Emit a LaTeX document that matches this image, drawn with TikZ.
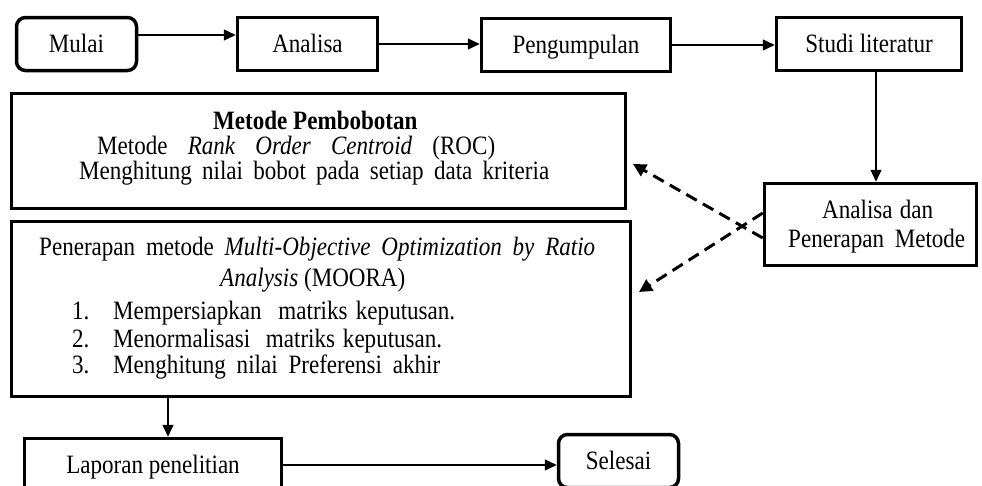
\documentclass[tikz,border=0pt]{standalone}
\usepackage{fontspec}
\setmainfont{Liberation Serif}[FakeStretch=0.87]
\usetikzlibrary{arrows.meta,calc}
\begin{document}
\begin{tikzpicture}[x=1pt,y=-1pt,
  every node/.style={font=\fontsize{26.5}{30}\selectfont},
  box/.style={draw, line width=3.5pt, minimum height=53pt, inner sep=0pt, align=center,
    text height=23pt, text depth=6.5pt},
  bigbox/.style={draw, line width=3.5pt, inner sep=0pt},
  rbox/.style={box, rounded corners=9pt},
  txt/.style={inner sep=0pt, align=left},
  conn/.style={line width=1.3pt, -{Triangle[length=12pt,width=11pt]}},
  dconn/.style={line width=3pt, dash pattern=on 12pt off 7pt, -{Triangle[length=13pt,width=13pt]}}]

\useasboundingbox (0,0) rectangle (982,485);
\clip (0,0) rectangle (982,485);

% boxes
\node[rbox, minimum width=120pt] (mulai) at (76.5,44) {Mulai};
\node[box, minimum width=140pt] (analisa) at (307.5,44) {Analisa};
\node[box, minimum width=189pt] (pengumpulan) at (576,45) {Pengumpulan};
\node[box, minimum width=185pt] (studi) at (869,44) {Studi literatur};
\node[bigbox, minimum width=614pt, minimum height=115pt] (roc) at (318.5,151) {};
\node[bigbox, minimum width=619pt, minimum height=175pt] (moora) at (321,309) {};
\node[bigbox, minimum width=212pt, minimum height=82pt] (anp) at (870.5,224.5) {};
\node[box, minimum width=257pt] (laporan) at (153,465) {Laporan penelitian};
\node[rbox, minimum width=120pt] (selesai) at (618.5,461) {Selesai};

% text of the ROC box (base anchor = baseline of the last line)
\node[txt, anchor=base west, font={\fontsize{26.5}{25}\selectfont\lineskiplimit=-100pt}] (roctext) at (60,179) {%
\makebox[500pt][l]{\hspace*{153pt}\textbf{Metode Pembobotan}}\\
\makebox[500pt][l]{\hspace*{37pt}\makebox[398pt][s]{Metode \textit{Rank Order Centroid} (ROC)}}\\
\makebox[500pt][l]{\hspace*{19pt}\makebox[470pt][s]{Menghitung nilai bobot pada setiap data kriteria}}};

% text of the MOORA box
\node[txt, anchor=base west, font={\fontsize{26.5}{26}\selectfont\lineskiplimit=-100pt}] (mooratext) at (39,373) {%
\makebox[560pt][l]{\makebox[556pt][s]{Penerapan metode \textit{Multi-Objective Optimization by Ratio}}}\\[5pt]
\makebox[560pt][l]{\hspace*{181pt}\textit{Analysis} (MOORA)}\\[7pt]
\makebox[560pt][l]{\hspace*{33pt}\makebox[41pt][l]{1.}\makebox[342pt][s]{Mempersiapkan\ \ matriks keputusan.}}\\[2pt]
\makebox[560pt][l]{\hspace*{33pt}\makebox[41pt][l]{2.}\makebox[329pt][s]{Menormalisasi\ \ matriks keputusan.}}\\
\makebox[560pt][l]{\hspace*{33pt}\makebox[41pt][l]{3.}\makebox[327pt][s]{Menghitung nilai Preferensi akhir}}};

% text of the analysis box
\node[txt, anchor=base west, font={\fontsize{26.5}{29}\selectfont\lineskiplimit=-100pt}] (anptext) at (788,247) {%
\makebox[180pt][l]{\hspace*{34pt}\makebox[111pt][s]{Analisa dan}}\\
\makebox[180pt][l]{\makebox[177pt][s]{Penerapan Metode}}};

% connectors
\coordinate (m1s) at ([yshift=9pt]mulai.east);
\draw[conn] (m1s) -- (m1s -| analisa.west);
\draw[conn] (analisa.east) -- (analisa.east -| pengumpulan.west);
\draw[conn] (pengumpulan.east) -- (pengumpulan.east -| studi.west);
\coordinate (anpin) at ([xshift=5.5pt]anp.north);
\draw[conn] (anpin |- studi.south) -- (anpin);
\coordinate (da) at ([yshift=-13.5pt]anp.west);
\coordinate (db) at ([yshift=11.5pt]anp.west);
\coordinate (ta) at (633,164);
\coordinate (tb) at (639,292);
\draw[dconn] (da) -- (ta);
\draw[dconn] (db) -- (tb);
\coordinate (lapin) at ([xshift=15pt]laporan.north);
\draw[conn] (lapin |- moora.south) -- (lapin);
\draw[conn] (laporan.east) -- (laporan.east -| selesai.west);
\end{tikzpicture}
\end{document}
